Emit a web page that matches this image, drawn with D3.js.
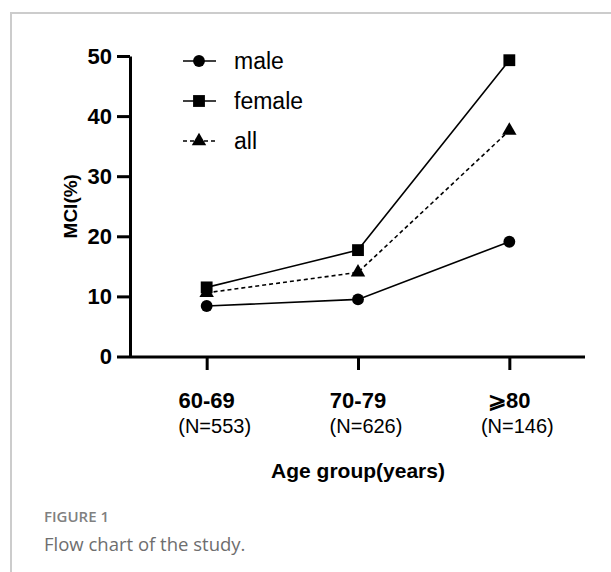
<!DOCTYPE html>
<html>
<head>
<meta charset="utf-8">
<script src="https://cdn.jsdelivr.net/npm/d3@7"></script>
<style>
body { margin: 0; background: #fff; }
svg { display: block; }
.axis path, .axis line { stroke: #000; stroke-width: 3px; }
.axis text { font-family: "Liberation Sans", Arial, sans-serif; font-weight: bold; fill: #000; }
</style>
</head>
<body>
<script>
var width = 611;
var height = 572;

// data
var groups = ["60-69", "70-79", "80+"];
var groupLabels = ["60-69", "70-79", "⩾80"];
var groupN = ["(N=553)", "(N=626)", "(N=146)"];
var male = [8.4, 9.5, 19.1];
var female = [11.5, 17.7, 49.3];
var all = [10.6, 14.0, 37.6];
var yTicks = [0, 10, 20, 30, 40, 50];

var svg = d3.select("body").append("svg")
    .attr("width", width)
    .attr("height", height);

// frame
svg.append("path")
    .attr("d", "M11," + height + "V13H" + width)
    .attr("fill", "none")
    .attr("stroke", "#cccccc")
    .attr("stroke-width", 2);

// scales
var x = d3.scalePoint()
    .domain(groups)
    .range([131, 585])
    .padding(0.5);

var y = d3.scaleLinear()
    .domain([0, 50])
    .range([356.5, 56]);

// axes
var yAxis = svg.append("g")
    .attr("class", "axis")
    .attr("transform", "translate(130,0)")
    .call(d3.axisLeft(y).tickValues(yTicks).tickSize(13).tickPadding(5).tickSizeOuter(0));
yAxis.selectAll("text").style("font-size", "22px");

var xAxis = svg.append("g")
    .attr("class", "axis")
    .attr("transform", "translate(0,357)")
    .call(d3.axisBottom(x).tickSize(13).tickSizeOuter(0).tickFormat(""));
xAxis.select(".domain").attr("d", "M130,0H585");

// x labels
var grp = svg.selectAll(".grp")
    .data(groupLabels)
    .enter().append("text")
    .attr("class", "grp")
    .attr("x", function(d, i) { return x(groups[i]); })
    .attr("y", 408)
    .attr("text-anchor", "middle")
    .style("font-family", "Liberation Sans, Arial, sans-serif")
    .style("font-weight", "bold")
    .style("font-size", "22px")
    .text(function(d) { return d; });

svg.selectAll(".grpn")
    .data(groupN)
    .enter().append("text")
    .attr("class", "grpn")
    .attr("x", function(d, i) { return x(groups[i]) + 8; })
    .attr("y", 433)
    .attr("text-anchor", "middle")
    .style("font-family", "Liberation Sans, Arial, sans-serif")
    .style("font-size", "20px")
    .text(function(d) { return d; });

// axis titles
svg.append("text")
    .attr("x", 358)
    .attr("y", 478)
    .attr("text-anchor", "middle")
    .style("font-family", "Liberation Sans, Arial, sans-serif")
    .style("font-weight", "bold")
    .style("font-size", "21px")
    .text("Age group(years)");

svg.append("text")
    .attr("transform", "translate(77," + y(25) + ")rotate(-90)")
    .attr("text-anchor", "middle")
    .style("font-family", "Liberation Sans, Arial, sans-serif")
    .style("font-weight", "bold")
    .style("font-size", "19px")
    .text("MCI(%)");

// series
var series = [
    { name: "male", values: male, symbol: d3.symbolCircle, size: 110, dash: null },
    { name: "female", values: female, symbol: d3.symbolSquare, size: 140, dash: null },
    { name: "all", values: all, symbol: d3.symbolTriangle, size: 90, dash: "4,3" }
];

var line = d3.line()
    .x(function(d, i) { return x(groups[i]); })
    .y(function(d) { return y(d); });

series.forEach(function(s) {
    svg.append("path")
        .attr("d", line(s.values))
        .attr("fill", "none")
        .attr("stroke", "#000")
        .attr("stroke-width", 1.6)
        .attr("stroke-dasharray", s.dash);

    svg.selectAll(".pt-" + s.name)
        .data(s.values)
        .enter().append("path")
        .attr("class", "pt-" + s.name)
        .attr("transform", function(d, i) { return "translate(" + x(groups[i]) + "," + y(d) + ")"; })
        .attr("d", d3.symbol().type(s.symbol).size(s.size))
        .attr("fill", "#000");
});

// legend
var legend = svg.selectAll(".legend")
    .data(series)
    .enter().append("g")
    .attr("class", "legend")
    .attr("transform", function(d, i) { return "translate(199," + (61 + i * 40) + ")"; });

legend.append("line")
    .attr("x1", -16)
    .attr("x2", 17)
    .attr("stroke", "#000")
    .attr("stroke-width", 1.6)
    .attr("stroke-dasharray", function(d) { return d.dash; });

legend.append("path")
    .attr("d", function(d) { return d3.symbol().type(d.symbol).size(d.size)(); })
    .attr("fill", "#000");

legend.append("text")
    .attr("x", 35)
    .attr("y", 8)
    .style("font-family", "Liberation Sans, Arial, sans-serif")
    .style("font-size", "23px")
    .text(function(d) { return d.name; });

// caption
svg.append("text")
    .attr("x", 44)
    .attr("y", 522)
    .style("font-family", "Open Sans, sans-serif")
    .style("font-weight", 600)
    .style("font-size", "15px")
    .style("fill", "#808080")
    .text("FIGURE 1");

svg.append("text")
    .attr("x", 44)
    .attr("y", 551)
    .style("font-family", "Open Sans, sans-serif")
    .style("font-size", "18.5px")
    .style("fill", "#6e6e6e")
    .text("Flow chart of the study.");
</script>
</body>
</html>
